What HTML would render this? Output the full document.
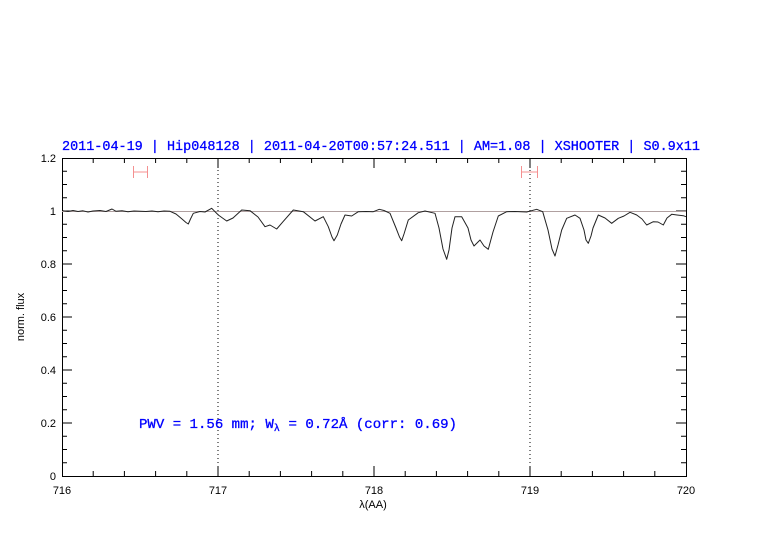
<!DOCTYPE html>
<html><head><style>body{margin:0;background:#fff}svg{display:block}</style></head><body>
<svg width="782" height="542" xmlns="http://www.w3.org/2000/svg" font-family="Liberation Sans, sans-serif">
<rect width="782" height="542" fill="#fff"/>
<g stroke="#000" stroke-width="1" fill="none">
<rect x="62.5" y="158.5" width="624" height="318"/>
<path d="M93.2 476v-5M124.4 476v-5M155.6 476v-5M186.8 476v-5M249.2 476v-5M280.4 476v-5M311.6 476v-5M342.8 476v-5M405.2 476v-5M436.4 476v-5M467.6 476v-5M498.8 476v-5M561.2 476v-5M592.4 476v-5M623.6 476v-5M654.8 476v-5
M218 476v-10M374 476v-10M530 476v-10
M93.2 158v5M124.4 158v5M155.6 158v5M186.8 158v5M249.2 158v5M280.4 158v5M311.6 158v5M342.8 158v5M405.2 158v5M436.4 158v5M467.6 158v5M498.8 158v5M561.2 158v5M592.4 158v5M623.6 158v5M654.8 158v5
M218 158v10M374 158v10M530 158v10"/>
<path d="M62 423h10M62 370h10M62 317h10M62 264h10M62 211h10M686 423h-10M686 370h-10M686 317h-10M686 264h-10M686 211h-10
M62 462.75h5M62 449.5h5M62 436.25h5M62 409.75h5M62 396.5h5M62 383.25h5M62 356.75h5M62 343.5h5M62 330.25h5M62 303.75h5M62 290.5h5M62 277.25h5M62 250.75h5M62 237.5h5M62 224.25h5M62 197.75h5M62 184.5h5M62 171.25h5
M686 462.75h-5M686 449.5h-5M686 436.25h-5M686 409.75h-5M686 396.5h-5M686 383.25h-5M686 356.75h-5M686 343.5h-5M686 330.25h-5M686 303.75h-5M686 290.5h-5M686 277.25h-5M686 250.75h-5M686 237.5h-5M686 224.25h-5M686 197.75h-5M686 184.5h-5M686 171.25h-5"/>
</g>
<path d="M218 158V476M530 158V476" stroke="#000" stroke-width="1" stroke-dasharray="1,3"/>
<line x1="62" y1="211.5" x2="686" y2="211.5" stroke="#b0a0a0" stroke-width="1"/>
<polyline fill="none" stroke="#222" stroke-width="1" stroke-linejoin="round" points="63,210.7 68,211.5 73,210.5 78,211.5 83,210.8 88,212 93,211 100,210.5 106,211.5 112,209 116,211.3 122,210.8 128,211.8 134,211 140,211.2 146,211.5 152,211 158,211.8 164,211 170,211.3 176,214 182,219 186,222.5 188.3,224 190.5,219 193.3,213.3 200,211.5 205,212 211.7,208.3 218.3,215 226.7,221 233,218 241.7,210 250,210.7 258,217 265,226.7 270,225 276.7,229 283,221.7 293.3,210 303.3,211.7 315,221 323.3,216.7 328.3,226.7 332,237 334,240.7 337.3,235 341,224 345,215 351.7,216 358.3,211.7 366,211.5 373.3,211.7 379.3,209.3 384,210.5 390,213.3 396,228 399.5,237 401.7,240.7 404,234 408.3,220 418.3,212.7 425,211 435,213.3 439,228 443,249 446.7,259.3 449,250 452,228 455,216.7 461.7,216.7 468,228 471,240 474,246 477,243 480,240 484,246 488.3,249.3 493,232 498.3,216 506.7,211.7 515,211.5 526.7,212 536.7,209.3 542.7,211.7 548,230 552,249 555,256 558,245 561.7,230 566.7,218.3 575,215 580,218.3 584,230 586,240 588.3,243.3 591,236 593,228 598.3,215 605,218 611.7,223.3 618.3,218.3 624,216 630,212.3 636.7,215 642,219 646.7,225 653.3,221.7 658,222 663.3,225 667,218 671.7,214.3 677,215 683.3,215.7 686,216.7"/>
<g stroke="#f49090" stroke-width="1" fill="none">
<path d="M133 172h15M133.5 166v12M147.5 166v12M521 172h17M521.5 166v12M537.5 166v12"/>
</g>
<g font-size="11" text-anchor="middle" fill="#000">
<text x="62" y="494">716</text><text x="218" y="494">717</text><text x="374" y="494">718</text><text x="530" y="494">719</text><text x="686" y="494">720</text>
<text x="373" y="508">λ(AA)</text>
</g>
<g font-size="11" text-anchor="end" fill="#000">
<text x="56" y="480">0</text><text x="56" y="427">0.2</text><text x="56" y="374">0.4</text><text x="56" y="321">0.6</text><text x="56" y="268">0.8</text><text x="56" y="215">1</text><text x="56" y="162">1.2</text>
</g>
<text transform="translate(24,317) rotate(-90)" font-size="11" text-anchor="middle">norm. flux</text>
<text x="62" y="150" font-family="Liberation Mono, monospace" font-size="13.5" fill="#0000ff" stroke="#0000ff" stroke-width="0.3" textLength="638" lengthAdjust="spacingAndGlyphs">2011-04-19 | Hip048128 | 2011-04-20T00:57:24.511 | AM=1.08 | XSHOOTER | S0.9x11</text>
<text x="139" y="428" font-family="Liberation Mono, monospace" font-size="13.5" fill="#0000ff" stroke="#0000ff" stroke-width="0.3" textLength="318" lengthAdjust="spacingAndGlyphs">PWV = 1.56 mm; W<tspan font-size="10" dy="3">λ</tspan><tspan dy="-3"> = 0.72Å (corr: 0.69)</tspan></text>
</svg>
</body></html>
